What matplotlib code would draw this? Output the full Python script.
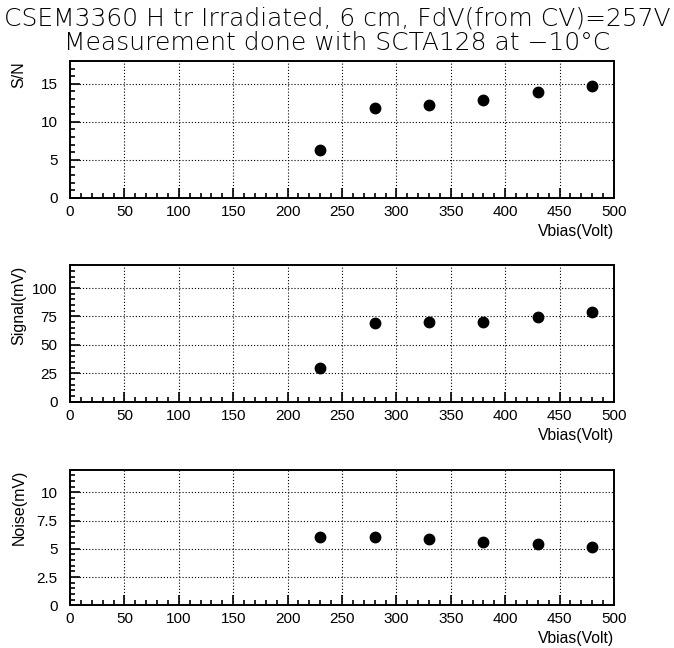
import matplotlib
matplotlib.use('Agg')
from matplotlib import pyplot as plt
from matplotlib.ticker import MultipleLocator

plt.rcParams['font.family'] = ['Liberation Sans', 'DejaVu Sans']

# data
vbias = [230, 280, 330, 380, 430, 480]
s_n = [6.3, 11.8, 12.2, 12.8, 13.9, 14.7]
signal = [30.0, 68.8, 70.0, 70.0, 74.1, 78.8]
noise = [6.0, 6.0, 5.9, 5.6, 5.4, 5.2]

title_lines = ['CSEM3360 H tr Irradiated, 6 cm, FdV(from CV)=257V',
               'Measurement done with SCTA128 at \u221210\u00b0C']

panels = [
    # (values, ylabel, ymax, major, minor, axes rect)
    (s_n, 'S/N', 18, 5, 1, [0.1039, 0.6949, 0.807, 0.211]),
    (signal, 'Signal(mV)', 120, 25, 5, [0.1039, 0.3801, 0.807, 0.2105]),
    (noise, 'Noise(mV)', 12, 2.5, 0.5, [0.1039, 0.0659, 0.807, 0.2093]),
]

fig = plt.figure(figsize=(6.74, 6.48), dpi=100)

for vals, ylabel, ymax, major, minor, rect in panels:
    ax = fig.add_axes(rect)
    ax.plot(vbias, vals, 'o', color='black', markersize=7.5, zorder=3)
    ax.set_xlim(0, 500)
    ax.set_ylim(0, ymax)
    ax.xaxis.set_major_locator(MultipleLocator(50))
    ax.xaxis.set_minor_locator(MultipleLocator(10))
    ax.yaxis.set_major_locator(MultipleLocator(major))
    ax.yaxis.set_minor_locator(MultipleLocator(minor))
    ax.yaxis.set_major_formatter(plt.FuncFormatter(lambda v, p: f'{v:g}'))
    ax.tick_params(which='both', direction='in', top=False, right=False,
                   labelsize=11, width=1.2, color='black')
    ax.tick_params(which='major', length=7)
    ax.tick_params(which='minor', length=3.5)
    ax.tick_params(axis='x', which='major', pad=5)
    ax.tick_params(axis='y', which='major', pad=9)
    ax.grid(True, which='major', linestyle=(0, (1, 1.8)), color='black', linewidth=0.8)
    for sp in ax.spines.values():
        sp.set_linewidth(1.4)
    ax.text(-0.094, 1.0, ylabel, rotation=90, ha='center', va='top',
            fontsize=11.5, transform=ax.transAxes)
    ax.text(1.0, -0.245, 'Vbias(Volt)', ha='right', va='center',
            fontsize=11.3, transform=ax.transAxes)

fig.text(0.5, 0.972, title_lines[0], ha='center', va='center', fontsize=18,
         family=['DejaVu Sans'], fontweight='light')
fig.text(0.5, 0.934, title_lines[1], ha='center', va='center', fontsize=18,
         family=['DejaVu Sans'], fontweight='light')

fig.savefig('out.png', dpi=100)
